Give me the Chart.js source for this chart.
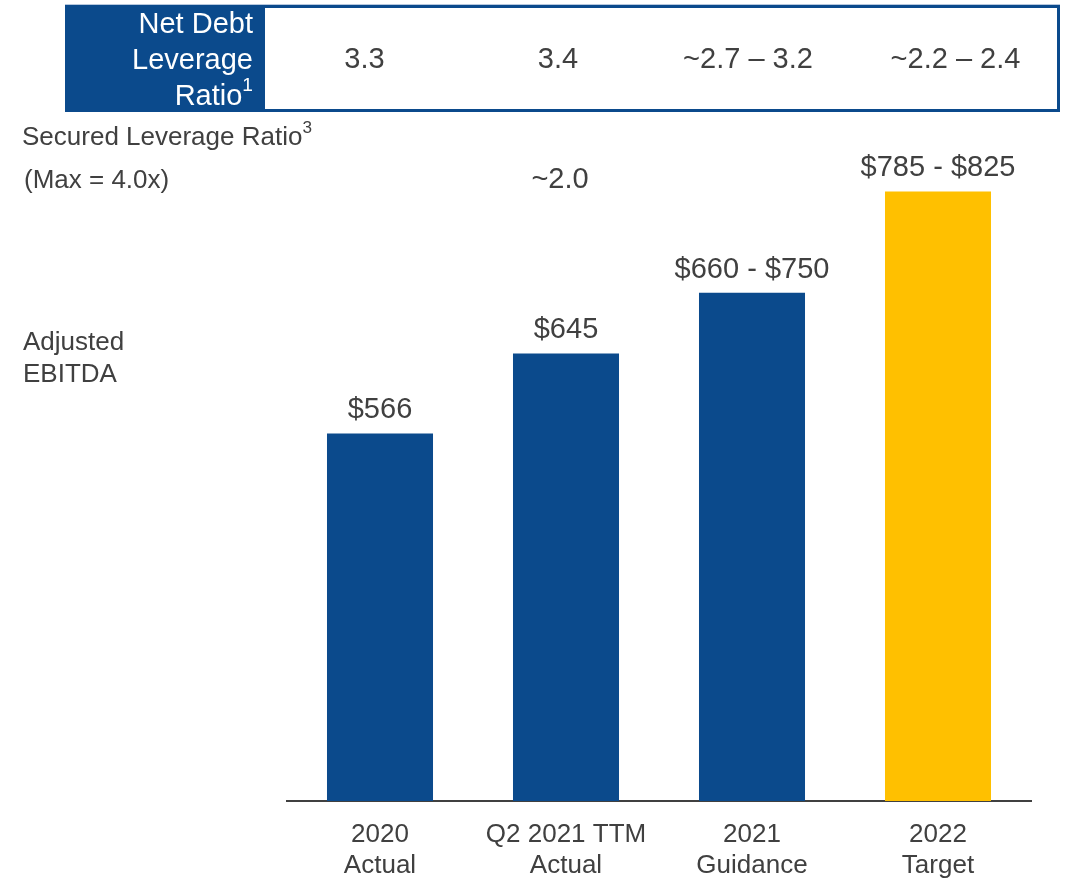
<!DOCTYPE html>
<html>
<head>
<meta charset="utf-8">
<script src="https://cdn.jsdelivr.net/npm/chart.js@4"></script>
<style>
body { margin: 0; background: #fff; font-family: "Liberation Sans", Arial, sans-serif; color: #404040; }
#wrap { position: relative; width: 1066px; height: 878px; overflow: hidden; }
#chart { position: absolute; left: 0; top: 0; }
.txt { position: absolute; white-space: nowrap; }
#table { position: absolute; left: 65px; top: 4px; width: 995px; height: 108px; border-top: 1px solid #b7c8de; display: flex; }
#head { width: 197px; height: 107px; background: #0B4A8C; color: #fff; font-size: 29px; line-height: 36px; text-align: right; padding-right: 9px; box-sizing: border-box; }
#vals { flex: 1; border: 3px solid #0B4A8C; display: grid; grid-template-columns: 199px 188px 192px 213px; align-items: center; font-size: 29px; text-align: center; box-sizing: border-box; height: 107px; }
#vals div:last-child { padding-left: 10px; }
sup { font-size: 66%; line-height: 0; vertical-align: 0.72em; }
</style>
</head>
<body>
<div id="wrap">
  <canvas id="chart" width="1066" height="878"></canvas>
  <div id="table">
    <div id="head">Net Debt<br>Leverage<br>Ratio<sup>1</sup></div>
    <div id="vals"></div>
  </div>
  <div class="txt" style="left:22px; top:121px; font-size:26px; line-height:30px;">Secured Leverage Ratio<sup>3</sup></div>
  <div class="txt" style="left:24px; top:164px; font-size:26px; line-height:30px;">(Max = 4.0x)</div>
  <div class="txt" style="left:23px; top:325px; font-size:26px; line-height:32px;">Adjusted<br>EBITDA</div>
</div>
<script>
var categories = [["2020", "Actual"], ["Q2 2021 TTM", "Actual"], ["2021", "Guidance"], ["2022", "Target"]];
var ebitda = [566, 645, 705, 805];
var ebitdaLabels = ["$566", "$645", "$660 - $750", "$785 - $825"];
var leverageRatios = ["3.3", "3.4", "~2.7 \u2013 3.2", "~2.2 \u2013 2.4"];
var securedRatios = ["", "~2.0", "", ""];
var barColors = ["#0B4A8C", "#0B4A8C", "#0B4A8C", "#FFC000"];

var vals = document.getElementById("vals");
for (let i = 0; i < leverageRatios.length; i++)
{
	let d = document.createElement("div");
	d.textContent = leverageRatios[i];
	vals.appendChild(d);
}

// value labels above bars + secured ratio row
var labelPlugin = {
	id: "labels",
	afterDatasetsDraw(chart)
	{
		let ctx = chart.ctx;
		let meta = chart.getDatasetMeta(0);
		let xScale = chart.scales.x;
		ctx.save();
		ctx.fillStyle = "#404040";
		ctx.font = "29px 'Liberation Sans', Arial, sans-serif";
		ctx.textAlign = "center";
		ctx.textBaseline = "alphabetic";
		for (let i = 0; i < meta.data.length; i++)
		{
			let bar = meta.data[i];
			ctx.fillText(ebitdaLabels[i], bar.x, bar.y - 15);
			if (securedRatios[i])
			{
				ctx.fillText(securedRatios[i], xScale.getPixelForValue(i) - 6, 188);
			}
		}
		ctx.restore();
	}
};

var chart = new Chart("chart",
{
	type: "bar",
	data:
	{
		labels: categories,
		datasets:
		[{
			data: ebitda,
			backgroundColor: barColors,
			categoryPercentage: 1.0,
			barPercentage: 0.57
		}]
	},
	options:
	{
		responsive: false,
		animation: false,
		layout: { padding: { left: 287, right: 35, top: 153, bottom: 0 } },
		plugins: { legend: { display: false }, tooltip: { enabled: false } },
		scales:
		{
			x:
			{
				grid: { display: false, drawTicks: false },
				border: { display: true, color: "#404040", width: 2 },
				ticks:
				{
					color: "#404040",
					padding: 18,
					font: { family: "'Liberation Sans', Arial, sans-serif", size: 26, lineHeight: 1.2 }
				},
				afterFit: function(scale) { scale.height = 77; }
			},
			y:
			{
				display: false,
				min: 203,
				max: 843
			}
		}
	},
	plugins: [labelPlugin]
});
</script>
</body>
</html>
